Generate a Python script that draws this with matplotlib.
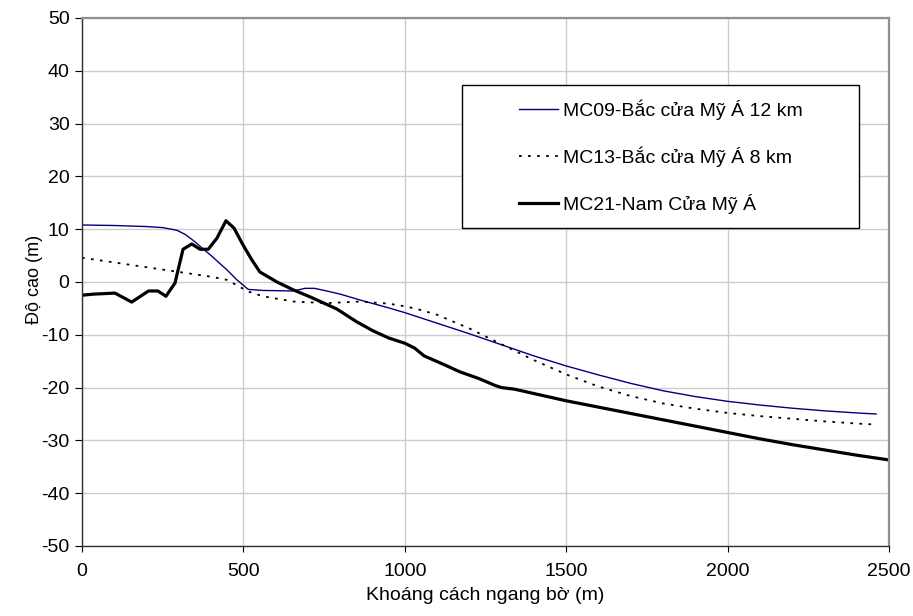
import numpy as np
import matplotlib.pyplot as plt
from matplotlib.patches import Rectangle

plt.rcParams['font.family'] = ['Liberation Sans', 'DejaVu Sans']
plt.rcParams['axes.unicode_minus'] = False

# MC09 - Bac cua My A 12 km (thin navy)
x_mc09 = [0, 100, 200, 250, 294, 320, 344, 400, 449, 480, 515, 560, 655, 691, 720, 758, 800, 861,
          950, 1000, 1100, 1200, 1300, 1400, 1500, 1600, 1700, 1800, 1900, 2000, 2100, 2200,
          2300, 2400, 2460]
y_mc09 = [10.8, 10.7, 10.5, 10.3, 9.8, 9.0, 7.9, 5.0, 2.3, 0.4, -1.4, -1.6, -1.7, -1.2, -1.2, -1.7,
          -2.3, -3.4, -4.9, -5.8, -7.8, -9.8, -11.9, -14.0, -15.9, -17.6, -19.2, -20.6, -21.7,
          -22.6, -23.3, -23.9, -24.4, -24.8, -25.0]

# MC13 - Bac cua My A 8 km (dotted)
x_mc13 = [0, 100, 200, 300, 400, 449, 515, 560, 655, 758, 861, 950, 1000, 1037, 1100, 1200, 1300,
          1350, 1400, 1500, 1600, 1700, 1800, 1900, 2000, 2100, 2200, 2300, 2400, 2460]
y_mc13 = [4.6, 3.7, 2.8, 1.9, 1.0, 0.4, -1.8, -2.7, -3.7, -4.0, -3.7, -4.1, -4.6, -5.1, -6.2,
          -8.8, -11.8, -13.3, -14.8, -17.5, -19.8, -21.6, -23.0, -24.0, -24.8, -25.4, -25.9,
          -26.4, -26.8, -27.0]

# MC21 - Nam Cua My A (thick black)
x_mc21 = [0, 35, 102, 154, 206, 235, 260, 288, 313, 340, 366, 391, 418, 446, 471, 499, 526, 551,
          604, 655, 706, 789, 850, 900, 950, 1000, 1030, 1060, 1120, 1170, 1230, 1280, 1300,
          1340, 1420, 1500, 1600, 1700, 1800, 1900, 2000, 2100, 2200, 2300, 2400, 2500]
y_mc21 = [-2.5, -2.3, -2.1, -3.8, -1.7, -1.7, -2.7, -0.2, 6.2, 7.2, 6.2, 6.2, 8.3, 11.6, 10.2,
          7.0, 4.2, 1.9, 0.0, -1.5, -2.8, -5.1, -7.5, -9.2, -10.6, -11.6, -12.5, -14.0, -15.6,
          -17.0, -18.3, -19.6, -20.0, -20.3, -21.4, -22.5, -23.7, -24.9, -26.1, -27.3, -28.5,
          -29.7, -30.8, -31.8, -32.8, -33.7]

labels = ['MC09-Bắc cửa Mỹ Á 12 km', 'MC13-Bắc cửa Mỹ Á 8 km', 'MC21-Nam Cửa Mỹ Á']

W, H = 913, 616
fig = plt.figure(figsize=(W / 100, H / 100), dpi=100)
ax = fig.add_axes([82 / W, 1 - 546 / H, (889 - 82) / W, (546 - 18) / H])

l1, = ax.plot(x_mc09, y_mc09, color='#000080', lw=1.0)
l2, = ax.plot(x_mc13, y_mc13, color='black', lw=1.3, ls=(0, (1.5, 3.5)))
l3, = ax.plot(x_mc21, y_mc21, color='black', lw=2.3)

ax.set_xlim(0, 2500)
ax.set_ylim(-50, 50)
ax.set_xticks(np.arange(0, 2501, 500))
ax.set_yticks(np.arange(-50, 51, 10))
ax.grid(True, color='#cccccc', lw=1.0)
ax.set_axisbelow(True)

for s in ['top', 'right']:
    ax.spines[s].set_color('#909090')
    ax.spines[s].set_linewidth(1.6)
for s in ['left', 'bottom']:
    ax.spines[s].set_color('#303030')
    ax.spines[s].set_linewidth(1.0)

ax.tick_params(axis='y', direction='out', length=5, pad=4, labelsize=14)
ax.tick_params(axis='x', direction='out', length=4, pad=8, labelsize=14)

ax.set_xlabel('Khoáng cách ngang bờ (m)', fontsize=14, labelpad=5)
ax.set_ylabel('Độ cao (m)', fontsize=13)
ax.yaxis.set_label_coords(-0.048, 0.505)

# legend box (Excel style, centred entries)
fig.patches.append(Rectangle((462 / W, 1 - 228 / H), (859 - 462) / W, (228 - 85) / H,
                             transform=fig.transFigure, facecolor='white',
                             edgecolor='black', lw=1.0, zorder=5))
leg = fig.legend([l1, l2, l3], labels, loc='upper left',
                 bbox_to_anchor=(519 / W, 1 - 99 / H), frameon=False,
                 fontsize=14, handlelength=2.0, handletextpad=0.25, labelspacing=1.38,
                 borderpad=0, borderaxespad=0)
leg.set_zorder(6)

fig.savefig('out.png', dpi=100)
